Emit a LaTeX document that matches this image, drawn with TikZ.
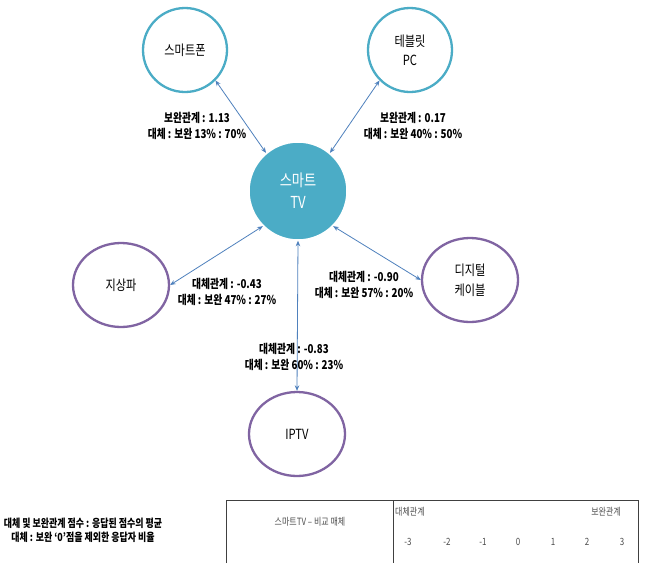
\documentclass[tikz,border=0pt]{standalone}
\usepackage{fontspec}
\newfontfamily\kr{Noto Sans CJK KR}[FakeStretch=0.8]
\usetikzlibrary{shapes.geometric,arrows.meta}
\definecolor{teal1}{RGB}{75,172,198}
\definecolor{purp}{RGB}{128,100,162}
\definecolor{arr}{RGB}{79,129,189}
\begin{document}
\begin{tikzpicture}[x=1pt,y=-1pt,
  tealc/.style={circle,draw=teal1,line width=2.3pt,minimum size=84pt,inner sep=0pt,align=center,font=\kr\fontsize{14}{19}\selectfont},
  purpe/.style={ellipse,draw=purp,line width=2.3pt,minimum width=96pt,minimum height=84pt,inner sep=0pt,align=center,font=\kr\fontsize{14}{20}\selectfont},
  hub/.style={circle,fill=teal1,draw=white,line width=1.5pt,minimum size=98pt,inner sep=0pt,align=center,text=white,font=\kr\fontsize{16.5}{22}\selectfont},
  conn/.style={draw=arr,line width=0.8pt,{Stealth[length=5.5pt,width=4.5pt]}-{Stealth[length=5.5pt,width=4.5pt]}},
  lbl/.style={align=center,font=\kr\bfseries\fontsize{12.2}{16}\selectfont,inner sep=0pt},
  legend/.style={align=center,font=\kr\bfseries\fontsize{11.2}{14}\selectfont,inner sep=0pt},
  tbl/.style={font=\kr\fontsize{10}{12}\selectfont,text=black!70,inner sep=0pt}]
\useasboundingbox (0,0) rectangle (647,563);
\fill[white] (0,0) rectangle (647,563);

\node[tealc] (sp) at (185,50) {스마트폰};
\node[tealc] (tb) at (410,50) {테블릿\\PC};
\node[hub] (tv) at (298,191) {스마트\\TV};
\node[purpe] (jsp) at (121,285) {지상파};
\node[purpe] (dc) at (470,280) {디지털\\케이블};
\node[purpe] (ip) at (297,434) {IPTV};

\draw[conn] (sp.-45) -- (tv.130);
\draw[conn] (tb.-135) -- (tv.50);
\draw[conn] (tv.225) -- (jsp.east);
\draw[conn] (tv.-45) -- (dc.west);
\draw[conn] (tv.south) -- (ip.north);

\node[lbl] (l1) at (197,126) {보완관계 : 1.13\\대체 : 보완 13\% : 70\%};
\node[lbl] (l2) at (413,126) {보완관계 : 0.17\\대체 : 보완 40\% : 50\%};
\node[lbl] (l3) at (227,292) {대체관계 : -0.43\\대체 : 보완 47\% : 27\%};
\node[lbl] (l4) at (364,285) {대체관계 : -0.90\\대체 : 보완 57\% : 20\%};
\node[lbl] (l5) at (294,357) {대체관계 : -0.83\\대체 : 보완 60\% : 23\%};

\node[legend] (lg) at (83,530) {대체 및 보완관계 점수 : 응답된 점수의 평균\\대체 : 보완 ‘0’점을 제외한 응답자 비율};

\coordinate (t1) at (226,563);
\coordinate (t2) at (226,500);
\coordinate (t3) at (638,500);
\coordinate (t4) at (638,563);
\coordinate (d1) at (393,500);
\coordinate (d2) at (393,563);
\draw[black!75,line width=0.8pt] (t1) -- (t2) -- (t3) -- (t4);
\draw[black!75,line width=0.8pt] (d1) -- (d2);

\node[tbl] (th) at (310,522) {스마트TV – 비교 매체};
\node[tbl,anchor=west] (sub) at (395,512) {대체관계};
\node[tbl,anchor=east] (com) at (621,512) {보완관계};
\node[tbl] (n1) at (408,542) {-3};
\node[tbl] (n2) at (447,542) {-2};
\node[tbl] (n3) at (483,542) {-1};
\node[tbl] (n4) at (518,542) {0};
\node[tbl] (n5) at (553,542) {1};
\node[tbl] (n6) at (587,542) {2};
\node[tbl] (n7) at (622,542) {3};
\end{tikzpicture}
\end{document}
